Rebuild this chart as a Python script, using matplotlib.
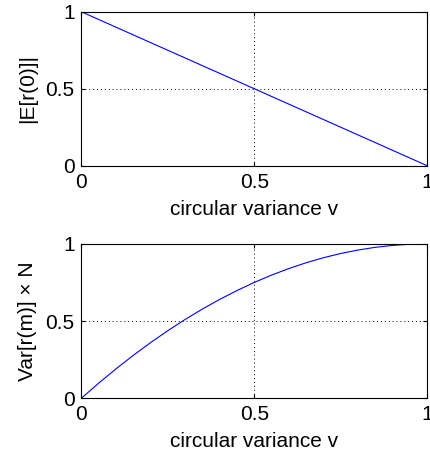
import numpy as np
import matplotlib.pyplot as plt

plt.rcParams['font.family'] = ['Liberation Sans', 'DejaVu Sans']

# circular variance samples
v = [0.0, 0.05, 0.1, 0.15, 0.2, 0.25, 0.3, 0.35, 0.4, 0.45, 0.5,
     0.55, 0.6, 0.65, 0.7, 0.75, 0.8, 0.85, 0.9, 0.95, 1.0]
# |E[r(0)]|
mean_abs = [1.0, 0.95, 0.9, 0.85, 0.8, 0.75, 0.7, 0.65, 0.6, 0.55, 0.5,
            0.45, 0.4, 0.35, 0.3, 0.25, 0.2, 0.15, 0.1, 0.05, 0.0]
# Var[r(m)] x N
var_n = [0.0, 0.0975, 0.19, 0.2775, 0.36, 0.4375, 0.51, 0.5775, 0.64, 0.6975, 0.75,
         0.7975, 0.84, 0.8775, 0.91, 0.9375, 0.96, 0.9775, 0.99, 0.9975, 1.0]

ticks = [0, 0.5, 1]
tick_labels = ['0', '0.5', '1']
xlabel = 'circular variance v'
ylabels = ['|E[r(0)]|', 'Var[r(m)] \u00d7 N']

fig = plt.figure(figsize=(4.3, 4.55), dpi=100)
ax1 = fig.add_axes([0.1895, 0.636, 0.8035, 0.338])
ax2 = fig.add_axes([0.1895, 0.125, 0.8035, 0.339])

for ax, y, lab in zip([ax1, ax2], [mean_abs, var_n], ylabels):
    ax.plot(v, y, color='#0000ff', lw=0.8)
    ax.set_xlim(0, 1)
    ax.set_ylim(0, 1)
    ax.set_xticks(ticks)
    ax.set_xticklabels(tick_labels)
    ax.set_yticks(ticks)
    ax.set_yticklabels(tick_labels)
    ax.grid(True, color='k', ls=(0, (1, 3)), lw=0.7)
    ax.tick_params(direction='in', length=3, width=0.8, top=True, right=True,
                   labelsize=15, pad=5)
    for s in ax.spines.values():
        s.set_linewidth(0.8)
    ax.set_xlabel(xlabel, fontsize=15, labelpad=6)
    ax.set_ylabel(lab, fontsize=15, labelpad=6)

fig.savefig('out.png', dpi=100)
